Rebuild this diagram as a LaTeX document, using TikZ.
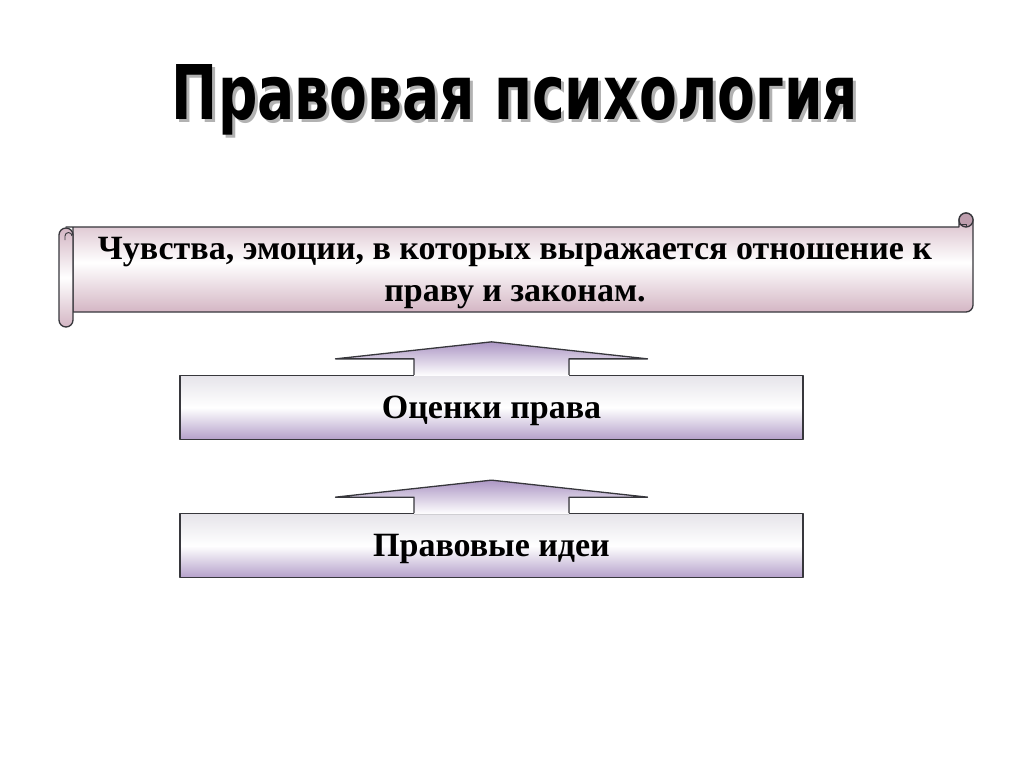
\documentclass[tikz,border=0pt]{standalone}
\usepackage{fontspec}
\setmainfont{Liberation Serif}
\newfontfamily\titlefont{DejaVu Sans}
\usetikzlibrary{positioning}

\definecolor{scrollpink}{RGB}{212,182,196}
\definecolor{rollpink}{RGB}{190,158,174}
\definecolor{boxlilac}{RGB}{180,160,202}
\definecolor{boxgrey}{RGB}{230,228,234}
\definecolor{arrowlilac}{RGB}{172,150,196}
\definecolor{edgegrey}{RGB}{55,55,60}

\tikzset{
  edge/.style={draw=edgegrey, line width=1.3pt, line join=round},
  scrollfill/.style={top color=scrollpink, bottom color=scrollpink, middle color=white},
  levelbox/.style={edge, minimum width=623pt, minimum height=64pt, inner sep=0pt,
    text depth=0pt, top color=boxgrey, bottom color=boxlilac, middle color=white,
    font=\bfseries\fontsize{34}{40}\selectfont},
  arrowshade/.style={top color=arrowlilac, bottom color=white},
}

\newcommand\titletext{\resizebox{686pt}{55pt}{\titlefont\bfseries Правовая психология}}

% up arrow standing on top of a box
\newcommand\blockarrow[1]{%
  \begin{scope}[shift={(#1)}]
    \fill[arrowshade] (-77.5,1) -- (-77.5,-16) -- (-156,-16) -- (0,-33)
      -- (156,-16) -- (77.5,-16) -- (77.5,1) -- cycle;
    \draw[edge] (-77.5,0) -- (-77.5,-16) -- (-156,-16) -- (0,-33)
      -- (156,-16) -- (77.5,-16) -- (77.5,0);
  \end{scope}}

\begin{document}
\begin{tikzpicture}[x=1pt, y=-1pt]
    \useasboundingbox[fill=white] (0,0) rectangle (1024,767);

    % Title with shadow
    \node[anchor=base] (title) at (515,120)
      {\makebox[0pt][l]{\kern3pt\raisebox{-3pt}{\color{black!30}\titletext}}\titletext};

    % Scroll body
    \draw[edge, scrollfill] (66,227) -- (959,227) -- (959,220)
      arc[start angle=180, end angle=360, radius=7] -- (973,305)
      arc[start angle=0, end angle=90, radius=7] -- (73,312) -- (73,227) -- cycle;
    \draw[edge, fill=rollpink] (966,220) circle[radius=7];
    \draw[edge, line width=0.9pt] (959,224) -- (966,224) -- (966,227);
    % left roll
    \draw[edge, scrollfill] (59,235) -- (59,320)
      arc[start angle=180, end angle=0, radius=7] -- (73,235)
      arc[start angle=0, end angle=-180, radius=7] -- cycle;
    \draw[edge, line width=0.9pt] (72,236) arc[start angle=0, end angle=-180, radius=3.5]
      -- (65,240);

    \node[align=center, font=\bfseries\fontsize{34}{42}\selectfont] (feelings) at (515,273)
      {Чувства, эмоции, в которых выражается отношение к\\праву и законам.};

    % Levels
    \node[levelbox] (evals) at (491.5,407.5) {Оценки права};
    \node[levelbox, below=73pt of evals] (ideas) {Правовые идеи};

    \blockarrow{evals.north}
    \blockarrow{ideas.north}
\end{tikzpicture}
\end{document}
